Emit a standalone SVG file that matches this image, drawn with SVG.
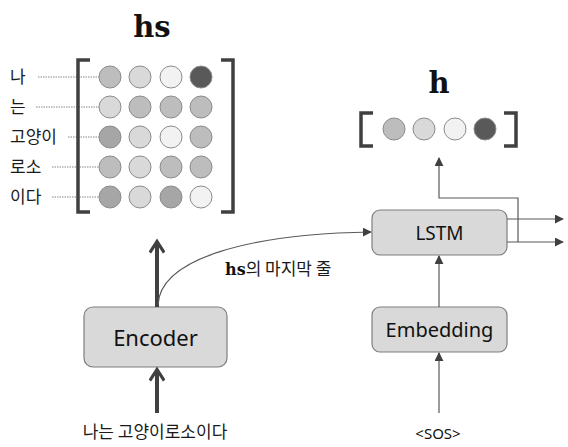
<svg xmlns="http://www.w3.org/2000/svg" width="568" height="447" viewBox="0 0 568 447">
<defs>
<style>
.kr{font-family:"Noto Sans CJK KR","Noto Sans",sans-serif;font-size:17px;fill:#1a1a1a}
.mono{font-family:"DejaVu Serif","Liberation Serif",serif;font-weight:bold;fill:#111}
.box{fill:#d9d9d9;stroke:#7f7f7f;stroke-width:1.2}
.bt{font-family:"Noto Sans","Liberation Sans",sans-serif;fill:#111;text-anchor:middle}
.br{fill:none;stroke:#404040;stroke-width:3.5}
.c{stroke:#8c8c8c;stroke-width:1}
.L{fill:#bdbdbd}.D{fill:#d9d9d9}.F{fill:#f2f2f2}.K{fill:#595959}.M{fill:#a6a6a6}
.g{stroke:#888;stroke-width:1;stroke-dasharray:1.5 1}
.thin{fill:none;stroke:#595959;stroke-width:1.2}
.thick{fill:none;stroke:#404040;stroke-width:4}
</style>
<marker id="a" viewBox="0 0 10 10" refX="9" refY="5" markerWidth="9" markerHeight="9" markerUnits="userSpaceOnUse" orient="auto"><path d="M0,0L10,5L0,10z" fill="#404040"/></marker>
<marker id="ta" viewBox="0 0 10 10" refX="7" refY="5" markerWidth="4" markerHeight="4" orient="auto"><path d="M1,0.5L8,5L1,9.5" fill="none" stroke="#404040" stroke-width="2"/></marker>
</defs>
<rect width="568" height="447" fill="#fff"/>

<g id="hs-matrix">
<text class="mono" x="152" y="37" font-size="29" text-anchor="middle">hs</text>
<g id="row-labels">
<text class="kr" x="10" y="83">나</text>
<text class="kr" x="10" y="113">는</text>
<text class="kr" x="10" y="143">고양이</text>
<text class="kr" x="10" y="173">로소</text>
<text class="kr" x="10" y="203">이다</text>
<line class="g" x1="38" y1="77" x2="99" y2="77"/>
<line class="g" x1="36" y1="107" x2="99" y2="107"/>
<line class="g" x1="68" y1="137" x2="99" y2="137"/>
<line class="g" x1="52" y1="167" x2="99" y2="167"/>
<line class="g" x1="52" y1="197" x2="99" y2="197"/>
</g>
<path class="br" d="M90,60H78V212H90"/>
<path class="br" d="M221,60H233V212H221"/>
<g class="c">
<circle class="L" cx="110" cy="77" r="11"/><circle class="D" cx="140" cy="77" r="11"/><circle class="F" cx="171" cy="77" r="11"/><circle class="K" cx="201" cy="77" r="11"/>
<circle class="D" cx="110" cy="107" r="11"/><circle class="L" cx="140" cy="107" r="11"/><circle class="L" cx="171" cy="107" r="11"/><circle class="L" cx="201" cy="107" r="11"/>
<circle class="M" cx="110" cy="137" r="11"/><circle class="D" cx="140" cy="137" r="11"/><circle class="F" cx="171" cy="137" r="11"/><circle class="L" cx="201" cy="137" r="11"/>
<circle class="L" cx="110" cy="167" r="11"/><circle class="D" cx="140" cy="167" r="11"/><circle class="L" cx="171" cy="167" r="11"/><circle class="L" cx="201" cy="167" r="11"/>
<circle class="M" cx="110" cy="197" r="11"/><circle class="D" cx="140" cy="197" r="11"/><circle class="M" cx="171" cy="197" r="11"/><circle class="F" cx="201" cy="197" r="11"/>
</g>
</g>

<g id="h-vector">
<text class="mono" x="439" y="93" font-size="29" text-anchor="middle">h</text>
<path class="br" d="M373,113H361V146H373"/>
<path class="br" d="M504,113H516V146H504"/>
<g class="c">
<circle class="L" cx="394" cy="129" r="11"/><circle class="D" cx="424" cy="129" r="11"/><circle class="F" cx="455" cy="129" r="11"/><circle class="K" cx="485" cy="129" r="11"/>
</g>
</g>

<g id="encoder">
<rect class="box" x="84" y="307" width="143" height="60" rx="9"/>
<text class="bt" x="155.5" y="346" font-size="22">Encoder</text>
</g>

<g id="lstm">
<rect class="box" x="372" y="210" width="135" height="45" rx="8"/>
<text class="bt" x="439.5" y="240" font-size="19">LSTM</text>
</g>

<g id="embedding">
<rect class="box" x="372" y="307" width="135" height="45" rx="8"/>
<text class="bt" x="439.5" y="337" font-size="20">Embedding</text>
</g>

<g id="input-labels">
<text class="kr" x="155" y="438" text-anchor="middle" font-size="17.5">나는 고양이로소이다</text>
<text class="bt" x="438" y="439" font-size="15">&lt;SOS&gt;</text>
<text x="225" y="275"><tspan class="mono" font-size="16">hs</tspan><tspan class="kr">의 마지막 줄</tspan></text>
</g>

<g id="connectors">
<line class="thick" x1="157" y1="307" x2="157" y2="243" marker-end="url(#ta)"/>
<line class="thick" x1="157" y1="413" x2="157" y2="371" marker-end="url(#ta)"/>
<path class="thin" d="M158,305C160,258 250,234 371,232" marker-end="url(#a)"/>
<path class="thin" d="M518,242V198H439V158" marker-end="url(#a)"/>
<line class="thin" x1="507" y1="219" x2="563" y2="219" marker-end="url(#a)"/>
<line class="thin" x1="507" y1="242" x2="563" y2="242" marker-end="url(#a)"/>
<line class="thin" x1="439" y1="307" x2="439" y2="256" marker-end="url(#a)"/>
<line class="thin" x1="439" y1="413" x2="439" y2="353" stroke="#808080" marker-end="url(#a)"/>
</g>
</svg>
